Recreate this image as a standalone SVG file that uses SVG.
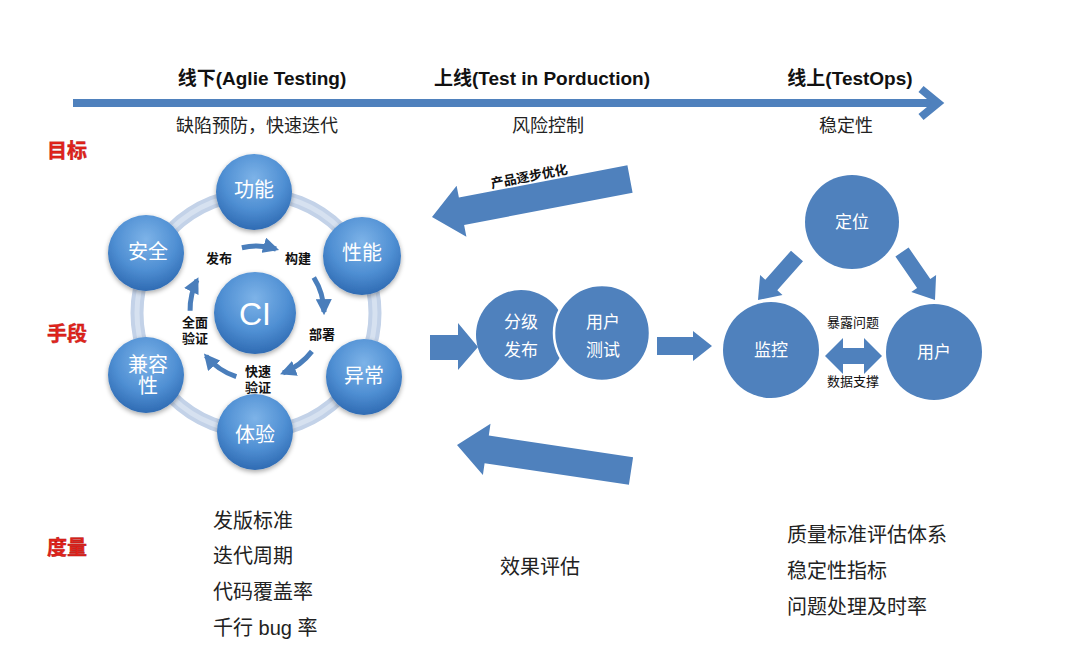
<svg xmlns="http://www.w3.org/2000/svg" width="1070" height="652" viewBox="0 0 1070 652">
<defs>
<radialGradient id="ng" cx="50%" cy="32%" r="68%">
<stop offset="0" stop-color="#7db3e8"/>
<stop offset="0.6" stop-color="#4f8fd3"/>
<stop offset="1" stop-color="#2f6bb3"/>
</radialGradient>
<filter id="sh" x="-30%" y="-30%" width="160%" height="160%">
<feGaussianBlur in="SourceAlpha" stdDeviation="2.5"/>
<feOffset dx="0" dy="2" result="b"/>
<feComponentTransfer><feFuncA type="linear" slope="0.35"/></feComponentTransfer>
<feMerge><feMergeNode/><feMergeNode in="SourceGraphic"/></feMerge>
</filter>
<marker id="ah" viewBox="0 0 10 10" refX="8" refY="5" markerWidth="3.2" markerHeight="3.2" orient="auto">
<path d="M0,0 L10,5 L0,10 z" fill="#4a7ebb"/>
</marker>
</defs>
<style>
text{font-family:"Liberation Sans","Noto Sans CJK SC",sans-serif}
.ttl{font-size:19px;font-weight:bold;fill:#111;text-anchor:middle}
.sub{font-size:18px;fill:#222;text-anchor:middle}
.red{font-size:20px;font-weight:bold;fill:#e3231b;stroke:#b5120c;stroke-width:0.4}
.nd{fill:url(#ng);filter:url(#sh)}
.nt{font-size:20px;fill:#fff;text-anchor:middle}
.lb{font-size:13px;font-weight:bold;fill:#111;text-anchor:middle}
.fl{fill:#4f81bd}
.wt{font-size:17px;fill:#fff;text-anchor:middle}
.sm{font-size:13px;fill:#111;text-anchor:middle}
.bt{font-size:20px;fill:#222}
.arc{fill:none;stroke:#4a7ebb;stroke-width:5;marker-end:url(#ah)}
</style>
<rect width="1070" height="652" fill="#fff"/>

<g id="timeline">
<line x1="73" y1="103" x2="934" y2="103" stroke="#4f81bd" stroke-width="8"/>
<polyline points="921,89 938,103 921,117" fill="none" stroke="#4f81bd" stroke-width="8" stroke-linejoin="miter"/>
<text class="ttl" x="262" y="85">线下(Aglie Testing)</text>
<text class="ttl" x="542" y="85">上线(Test in Porduction)</text>
<text class="ttl" x="850" y="85">线上(TestOps)</text>
<text class="sub" x="257" y="132">缺陷预防，快速迭代</text>
<text class="sub" x="548" y="132">风险控制</text>
<text class="sub" x="846" y="132">稳定性</text>
</g>

<g id="row-labels">
<text class="red" x="47" y="158">目标</text>
<text class="red" x="47" y="341">手段</text>
<text class="red" x="47" y="555">度量</text>
</g>

<g id="ring">
<circle cx="256" cy="313" r="119" fill="none" stroke="#c3d2e8" stroke-width="13"/>
<circle cx="256" cy="313" r="119" fill="none" stroke="#d6e1f0" stroke-width="5"/>
</g>

<g id="cycle-arrows">
<path class="arc" d="M241.9,247.7 A67,67 0 0 1 276,249"/>
<path class="arc" d="M313.8,277.5 A67,67 0 0 1 324,312"/>
<path class="arc" d="M311.9,351.4 A67,67 0 0 1 283,373"/>
<path class="arc" d="M236.3,376.7 A67,67 0 0 1 206,356"/>
<path class="arc" d="M190.1,310.7 A67,67 0 0 1 197,280"/>
<text class="lb" x="219" y="263">发布</text>
<text class="lb" x="298" y="263">构建</text>
<text class="lb" x="322" y="339">部署</text>
<text class="lb" x="258" y="376">快速</text>
<text class="lb" x="258" y="392">验证</text>
<text class="lb" x="195" y="327">全面</text>
<text class="lb" x="195" y="343">验证</text>
</g>

<g id="node-gongneng"><circle class="nd" cx="254" cy="192" r="38"/><text class="nt" x="254" y="197">功能</text></g>
<g id="node-xingneng"><circle class="nd" cx="362" cy="256" r="39"/><text class="nt" x="362" y="260">性能</text></g>
<g id="node-yichang"><circle class="nd" cx="364" cy="377" r="38"/><text class="nt" x="364" y="383">异常</text></g>
<g id="node-tiyan"><circle class="nd" cx="255" cy="432" r="38"/><text class="nt" x="255" y="442">体验</text></g>
<g id="node-jianrong"><circle class="nd" cx="146" cy="375" r="38"/><text class="nt" x="148" y="372">兼容</text><text class="nt" x="148" y="393">性</text></g>
<g id="node-anquan"><circle class="nd" cx="146" cy="253" r="38"/><text class="nt" x="148" y="259">安全</text></g>
<g id="node-ci"><circle class="nd" cx="255" cy="313" r="41"/><text x="255" y="325" style="font-size:32px;fill:#fff;text-anchor:middle">CI</text></g>

<g id="connectors">
<polygon class="fl" points="627.4,165.3 458.9,197.6 456.6,185.8 432,217 466.4,236.8 464.1,225 632.6,192.7"/>
<text x="529" y="181" transform="rotate(-11 529 176)" class="lb" style="font-size:13px">产品逐步优化</text>
<polygon class="fl" points="633.1,457.2 488.8,435.6 490.5,423.7 457,445 482.9,475.1 484.6,463.2 628.9,484.8"/>
<polygon class="fl" points="430,335 458,335 458,323 478,347 458,370 458,360 430,360"/>
<polygon class="fl" points="657,337 693,337 693,331 712,346 693,361 693,355 657,355"/>
<polygon class="fl" points="803,261.3 777.3,290.3 782.5,294.9 758,300 760.1,275.1 765.3,279.7 791,250.7"/>
<polygon class="fl" points="895.4,256.5 917.1,288 911.3,292 935,300 936.1,275 930.3,279 908.6,247.5"/>
<polygon class="fl" points="825,356 843,338 843,348 864,348 864,338 882,356 864,374 864,364 843,364 843,374"/>
<text class="sm" x="853" y="327">暴露问题</text>
<text class="sm" x="853" y="386">数据支撑</text>
</g>

<g id="node-fenji"><circle class="fl" cx="521" cy="335" r="45"/><text class="wt" x="521" y="328">分级</text><text class="wt" x="521" y="356">发布</text></g>
<g id="node-yonghuceshi"><circle class="fl" cx="602" cy="333" r="48" stroke="#fff" stroke-width="2.5"/><text class="wt" x="603" y="328">用户</text><text class="wt" x="603" y="356">测试</text></g>

<g id="node-dingwei"><circle class="fl" cx="852" cy="222" r="47"/><text class="wt" x="852" y="228">定位</text></g>
<g id="node-jiankong"><circle class="fl" cx="771" cy="350" r="48"/><text class="wt" x="771" y="356">监控</text></g>
<g id="node-yonghu"><circle class="fl" cx="934" cy="352" r="48"/><text class="wt" x="934" y="358">用户</text></g>

<g id="metrics">
<text class="bt" x="213" y="528">发版标准</text>
<text class="bt" x="213" y="563">迭代周期</text>
<text class="bt" x="213" y="599">代码覆盖率</text>
<text class="bt" x="213" y="635">千行 bug 率</text>
<text class="bt" x="500" y="574">效果评估</text>
<text class="bt" x="787" y="542">质量标准评估体系</text>
<text class="bt" x="787" y="578">稳定性指标</text>
<text class="bt" x="787" y="614">问题处理及时率</text>
</g>
</svg>
